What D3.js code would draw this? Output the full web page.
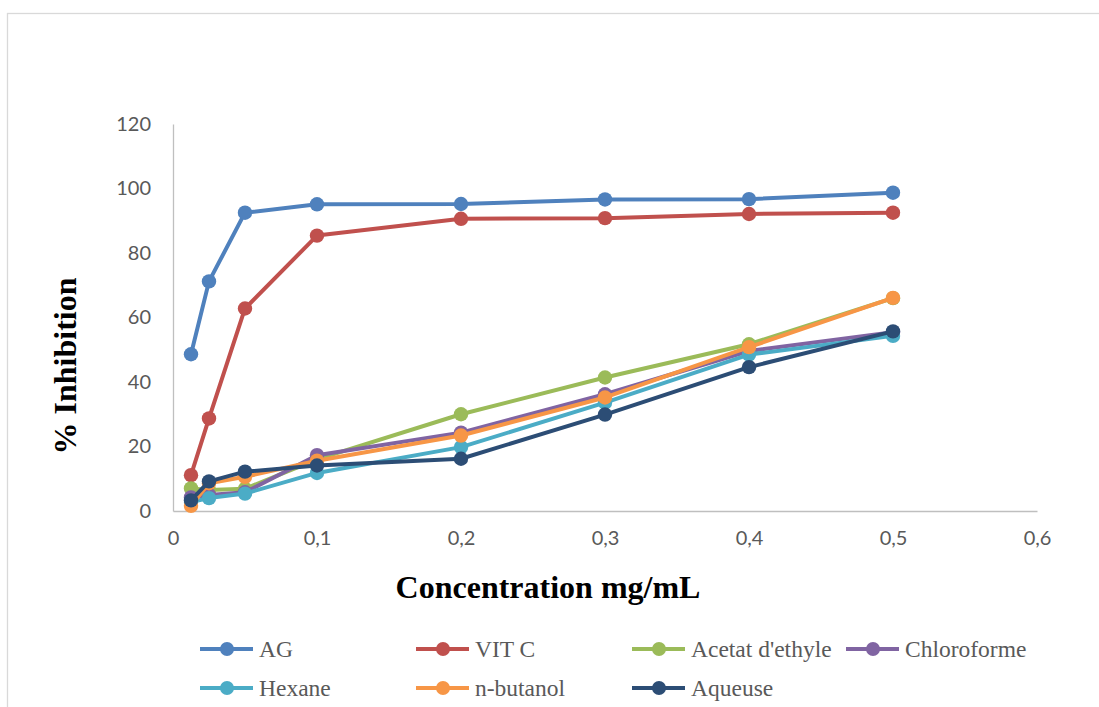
<!DOCTYPE html>
<html>
<head>
<meta charset="utf-8">
<script src="https://cdn.jsdelivr.net/npm/d3@7"></script>
<style>
  html, body { margin: 0; padding: 0; background: #fff; }
  svg { display: block; }
</style>
</head>
<body>
<svg id="chart" width="1099" height="707"></svg>
<script>
// Concentrations (mg/mL)
const concentrations = [0.0125, 0.025, 0.05, 0.1, 0.2, 0.3, 0.4, 0.5];

// % inhibition per extract / reference
const seriesNames = ["AG", "VIT C", "Acetat d'ethyle", "Chloroforme", "Hexane", "n-butanol", "Aqueuse"];
const agValues        = [48.6, 71.2, 92.5, 95.1, 95.2, 96.6, 96.7, 98.7];
const vitCValues      = [11.1, 28.7, 62.8, 85.4, 90.6, 90.8, 92.1, 92.5];
const acetatValues    = [7.0, 6.5, 6.9, 16.0, 30.0, 41.4, 51.7, 66.0];
const chloroValues    = [4.2, 5.0, 5.8, 17.3, 24.3, 36.2, 49.6, 55.4];
const hexaneValues    = [2.8, 4.0, 5.4, 11.8, 19.8, 33.6, 48.5, 54.3];
const butanolValues   = [1.6, 8.6, 10.6, 15.6, 23.4, 35.2, 50.8, 66.1];
const aqueuseValues   = [3.3, 9.2, 12.2, 14.1, 16.2, 29.9, 44.6, 55.7];
const seriesColors = ["#4F81BD", "#C0504D", "#9BBB59", "#8064A2", "#4BACC6", "#F79646", "#2C4D75"];

// Axis ticks
const xTicks = [0, 0.1, 0.2, 0.3, 0.4, 0.5, 0.6];
const yTicks = [0, 20, 40, 60, 80, 100, 120];

const allValues = [agValues, vitCValues, acetatValues, chloroValues, hexaneValues, butanolValues, aqueuseValues];
const series = seriesNames.map((name, i) => ({
  name,
  color: seriesColors[i],
  points: concentrations.map((c, j) => ({ x: c, y: allValues[i][j] }))
}));

const svg = d3.select("#chart");

// Chart area outline
svg.append("rect")
  .attr("x", 7.5).attr("y", 13.5)
  .attr("width", 1200).attr("height", 800)
  .attr("fill", "none")
  .attr("stroke", "#d9d9d9")
  .attr("stroke-width", 1.3);

const x = d3.scaleLinear().domain([0, 0.6]).range([173, 1037]);
const y = d3.scaleLinear().domain([0, 120]).range([511, 124]);

const tickFont = "Lato, 'Open Sans', sans-serif";
const fmt = d => d === 0 ? "0" : String(d).replace(".", ",");

// X axis
const xAxis = svg.append("g")
  .attr("transform", `translate(0,${y(0)})`)
  .call(d3.axisBottom(x).tickValues(xTicks).tickFormat(fmt).tickSize(0).tickPadding(20));
xAxis.select(".domain").attr("stroke", "#bfbfbf").attr("stroke-width", 1.3);
xAxis.selectAll("text")
  .attr("fill", "#595959")
  .style("font-family", tickFont)
  .style("font-size", "20px");

// Y axis
const yAxis = svg.append("g")
  .attr("transform", `translate(${x(0)},0)`)
  .call(d3.axisLeft(y).tickValues(yTicks).tickFormat(fmt).tickSize(0).tickPadding(22));
yAxis.select(".domain").attr("stroke", "#bfbfbf").attr("stroke-width", 1.3);
yAxis.selectAll("text")
  .attr("fill", "#595959")
  .style("font-family", tickFont)
  .style("font-size", "20px");

// Axis titles
svg.append("text")
  .attr("x", 548).attr("y", 598)
  .attr("text-anchor", "middle")
  .style("font-family", "'Liberation Serif', 'Times New Roman', serif")
  .style("font-weight", "bold")
  .style("font-size", "32px")
  .attr("fill", "#000")
  .text("Concentration mg/mL");

svg.append("text")
  .attr("transform", "translate(76,366) rotate(-90)")
  .attr("text-anchor", "middle")
  .style("font-family", "'Liberation Serif', 'Times New Roman', serif")
  .style("font-weight", "bold")
  .style("font-size", "32px")
  .attr("fill", "#000")
  .text("% Inhibition");

// Series lines and markers
const line = d3.line().x(d => x(d.x)).y(d => y(d.y));
const plot = svg.append("g");
series.forEach(s => {
  const g = plot.append("g");
  g.append("path")
    .datum(s.points)
    .attr("d", line)
    .attr("fill", "none")
    .attr("stroke", s.color)
    .attr("stroke-width", 4)
    .attr("stroke-linejoin", "round")
    .attr("stroke-linecap", "round");
  g.selectAll("circle")
    .data(s.points)
    .join("circle")
    .attr("cx", d => x(d.x))
    .attr("cy", d => y(d.y))
    .attr("r", 7.2)
    .attr("fill", s.color);
});

// Legend
const legendCols = [200, 416, 632, 846];
const legendRows = [649, 688];
const legend = svg.append("g");
series.forEach((s, i) => {
  const lx = legendCols[i % 4];
  const ly = legendRows[Math.floor(i / 4)];
  const item = legend.append("g").attr("transform", `translate(${lx},${ly})`);
  item.append("line")
    .attr("x1", 0).attr("x2", 53)
    .attr("y1", 0).attr("y2", 0)
    .attr("stroke", s.color)
    .attr("stroke-width", 4);
  item.append("circle")
    .attr("cx", 27).attr("cy", 0).attr("r", 7)
    .attr("fill", s.color);
  item.append("text")
    .attr("x", 59).attr("y", 0)
    .attr("dy", "0.35em")
    .style("font-family", "'Liberation Serif', 'Times New Roman', serif")
    .style("font-size", "23.5px")
    .attr("fill", "#595959")
    .text(s.name);
});
</script>
</body>
</html>
